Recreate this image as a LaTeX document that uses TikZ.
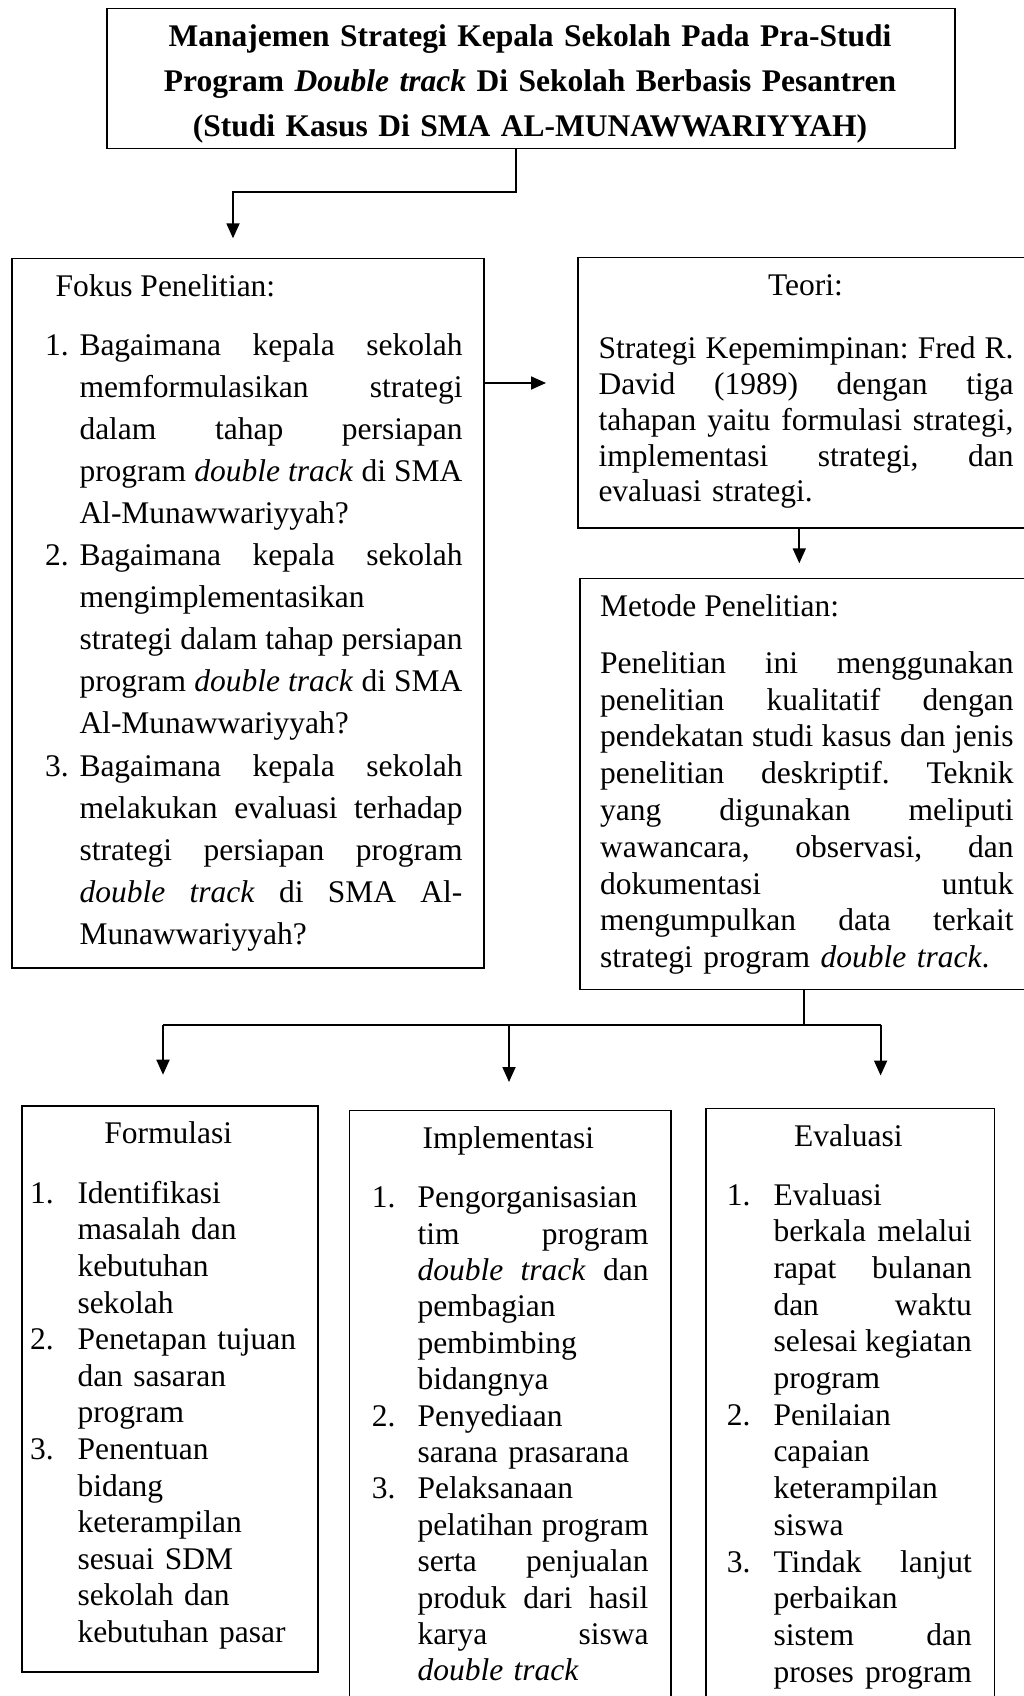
\documentclass[tikz,border=0pt]{standalone}
\usepackage{fontspec}
\setmainfont{Liberation Serif}
\usetikzlibrary{arrows.meta}
\newcommand{\JL}[1]{\leavevmode\hbox to \hsize{\spaceskip=0.25em plus 1fil minus 0.1em\relax #1}}
\newcommand{\fsA}{\fontsize{31.5}{42.1}\selectfont}
\newcommand{\fsT}{\fontsize{31.5}{35.9}\selectfont}
\newcommand{\fsM}{\fontsize{31.5}{36.8}\selectfont}
\newcommand{\fsF}{\fontsize{31.5}{36.6}\selectfont}
\newcommand{\fsI}{\fontsize{31.5}{36.4}\selectfont}
\newcommand{\fsE}{\fontsize{31.5}{36.7}\selectfont}
\AtBeginDocument{\frenchspacing}
\begin{document}
\begin{tikzpicture}[x=1pt,y=-1pt,
  box/.style={draw, line width=1.5pt, inner sep=0pt, anchor=north west},
  txt/.style={inner sep=0pt, anchor=base west, align=left},
  ctr/.style={inner sep=0pt, anchor=base},
  conn/.style={line width=1.8pt},
  arr/.style={line width=1.8pt, -{Triangle[length=15pt,width=13pt]}}]
\useasboundingbox (0,0) rectangle (1023,1696);

% boxes
\node[box, minimum width=848pt, minimum height=140pt] (title) at (106,8) {};
\node[box, minimum width=472pt, minimum height=709pt] (fokus) at (11,258) {};
\node[box, minimum width=460pt, minimum height=270pt] (teori) at (577,257) {};
\node[box, minimum width=460pt, minimum height=411pt] (metode) at (579,577.5) {};
\node[box, minimum width=296pt, minimum height=566pt] (form) at (21,1105) {};
\node[box, minimum width=321.5pt, minimum height=620pt] (impl) at (348.5,1109.5) {};
\node[box, minimum width=288.5pt, minimum height=620pt] (eval) at (705,1107.5) {};

% title
\node[ctr, text width=840pt, align=center, font=\fontsize{31.5}{45}\selectfont\bfseries] (ttl) at (530,46.7)
  {Manajemen Strategi Kepala Sekolah Pada Pra-Studi\\ Program \textit{Double track} Di Sekolah Berbasis Pesantren\\ (Studi Kasus Di SMA AL-MUNAWWARIYYAH)};

% fokus
\node[txt, font=\fsA] (fh) at (55.4,296.7) {Fokus Penelitian:};
\node[txt, font=\fsA] (f1n) at (45,355) {1.};
\node[txt, font=\fsA, text width=383pt] (f1) at (79.3,355)
  {\JL{Bagaimana kepala sekolah}\\ \JL{memformulasikan strategi}\\ \JL{dalam tahap persiapan}\\ \JL{program \textit{double track} di SMA}\\ Al-Munawwariyyah?};
\node[txt, font=\fsA] (f2n) at (45,565.5) {2.};
\node[txt, font=\fsA, text width=383pt] (f2) at (79.3,565.5)
  {\JL{Bagaimana kepala sekolah}\\ mengimplementasikan\\ \JL{strategi dalam tahap persiapan}\\ \JL{program \textit{double track} di SMA}\\ Al-Munawwariyyah?};
\node[txt, font=\fsA] (f3n) at (45,776) {3.};
\node[txt, font=\fsA, text width=383pt] (f3) at (79.3,776)
  {\JL{Bagaimana kepala sekolah}\\ \JL{melakukan evaluasi terhadap}\\ \JL{strategi persiapan program}\\ \JL{\textit{double track} di SMA Al-}\\ Munawwariyyah?};

% teori
\node[ctr, font=\fsT] (th) at (805.5,295) {Teori:};
\node[txt, font=\fsT, text width=415pt] (tb) at (598.3,358.3)
  {\JL{Strategi Kepemimpinan: Fred R.}\\ \JL{David (1989) dengan tiga}\\ \JL{tahapan yaitu formulasi strategi,}\\ \JL{implementasi strategi, dan}\\ evaluasi strategi.};

% metode
\node[txt, font=\fsM] (mh) at (600,616.7) {Metode Penelitian:};
\node[txt, font=\fsM, text width=413.3pt] (mb) at (600,673.3)
  {\JL{Penelitian ini menggunakan}\\ \JL{penelitian kualitatif dengan}\\ \JL{pendekatan studi kasus dan jenis}\\ \JL{penelitian deskriptif. Teknik}\\ \JL{yang digunakan meliputi}\\ \JL{wawancara, observasi, dan}\\ \JL{dokumentasi untuk}\\ \JL{mengumpulkan data terkait}\\ strategi program \textit{double track}.};

% formulasi
\node[ctr, font=\fsF] (fmh) at (168.3,1143.3) {Formulasi};
\node[txt, font=\fsF] (fm1n) at (30,1203.3) {1.};
\node[txt, font=\fsF, text width=230pt] (fm1) at (77.3,1203.3) {Identifikasi\\ masalah dan\\ kebutuhan\\ sekolah};
\node[txt, font=\fsF] (fm2n) at (30,1349.7) {2.};
\node[txt, font=\fsF, text width=230pt] (fm2) at (77.3,1349.7) {Penetapan tujuan\\ dan sasaran\\ program};
\node[txt, font=\fsF] (fm3n) at (30,1459.5) {3.};
\node[txt, font=\fsF, text width=230pt] (fm3) at (77.3,1459.5) {Penentuan\\ bidang\\ keterampilan\\ sesuai SDM\\ sekolah dan\\ kebutuhan pasar};

% implementasi
\node[ctr, font=\fsI] (imh) at (508.3,1148.8) {Implementasi};
\node[txt, font=\fsI] (im1n) at (371.7,1207.7) {1.};
\node[txt, font=\fsI, text width=231pt] (im1) at (417.3,1207.7)
  {Pengorganisasian\\ \JL{tim program}\\ \JL{\textit{double track} dan}\\ pembagian\\ pembimbing\\ bidangnya};
\node[txt, font=\fsI] (im2n) at (371.7,1426.1) {2.};
\node[txt, font=\fsI, text width=231pt] (im2) at (417.3,1426.1) {Penyediaan\\ sarana prasarana};
\node[txt, font=\fsI] (im3n) at (371.7,1498.9) {3.};
\node[txt, font=\fsI, text width=231pt] (im3) at (417.3,1498.9)
  {Pelaksanaan\\ \JL{pelatihan program}\\ \JL{serta penjualan}\\ \JL{produk dari hasil}\\ \JL{karya siswa}\\ \textit{double track}};

% evaluasi
\node[ctr, font=\fsE] (evh) at (848.3,1146.8) {Evaluasi};
\node[txt, font=\fsE] (ev1n) at (726.7,1205) {1.};
\node[txt, font=\fsE, text width=198.4pt] (ev1) at (773.3,1205)
  {Evaluasi\\ \JL{berkala melalui}\\ \JL{rapat bulanan}\\ \JL{dan waktu}\\ \JL{selesai kegiatan}\\ program};
\node[txt, font=\fsE] (ev2n) at (726.7,1425.2) {2.};
\node[txt, font=\fsE, text width=198.4pt] (ev2) at (773.3,1425.2) {Penilaian\\ capaian\\ keterampilan\\ siswa};
\node[txt, font=\fsE] (ev3n) at (726.7,1572) {3.};
\node[txt, font=\fsE, text width=198.4pt] (ev3) at (773.3,1572)
  {\JL{Tindak lanjut}\\ perbaikan\\ \JL{sistem dan}\\ \JL{proses program}};

% connectors
\coordinate (ftop) at (233,238.3);
\draw[arr] ([xshift=-15pt]title.south) -- ++(0,42.7) -| (ftop);
\coordinate (ftip) at (546,383);
\draw[arr] (fokus.east |- ftip) -- (ftip);
\coordinate (mtip) at (799.3,563.3);
\draw[arr] (teori.south -| mtip) -- (mtip);
\coordinate (split) at (804,1025);
\coordinate (hl) at (163,1025);
\coordinate (hm) at (509,1025);
\coordinate (hr) at (880.6,1025);
\draw[conn] (metode.south -| split) -- (split);
\draw[conn] (hl) -- (hr);
\coordinate (tipA) at (163,1074.7);
\coordinate (tipB) at (509,1082);
\coordinate (tipC) at (880.6,1075.5);
\draw[arr] (hl) -- (tipA);
\draw[arr] (hm) -- (tipB);
\draw[arr] (hr) -- (tipC);
\end{tikzpicture}
\end{document}
